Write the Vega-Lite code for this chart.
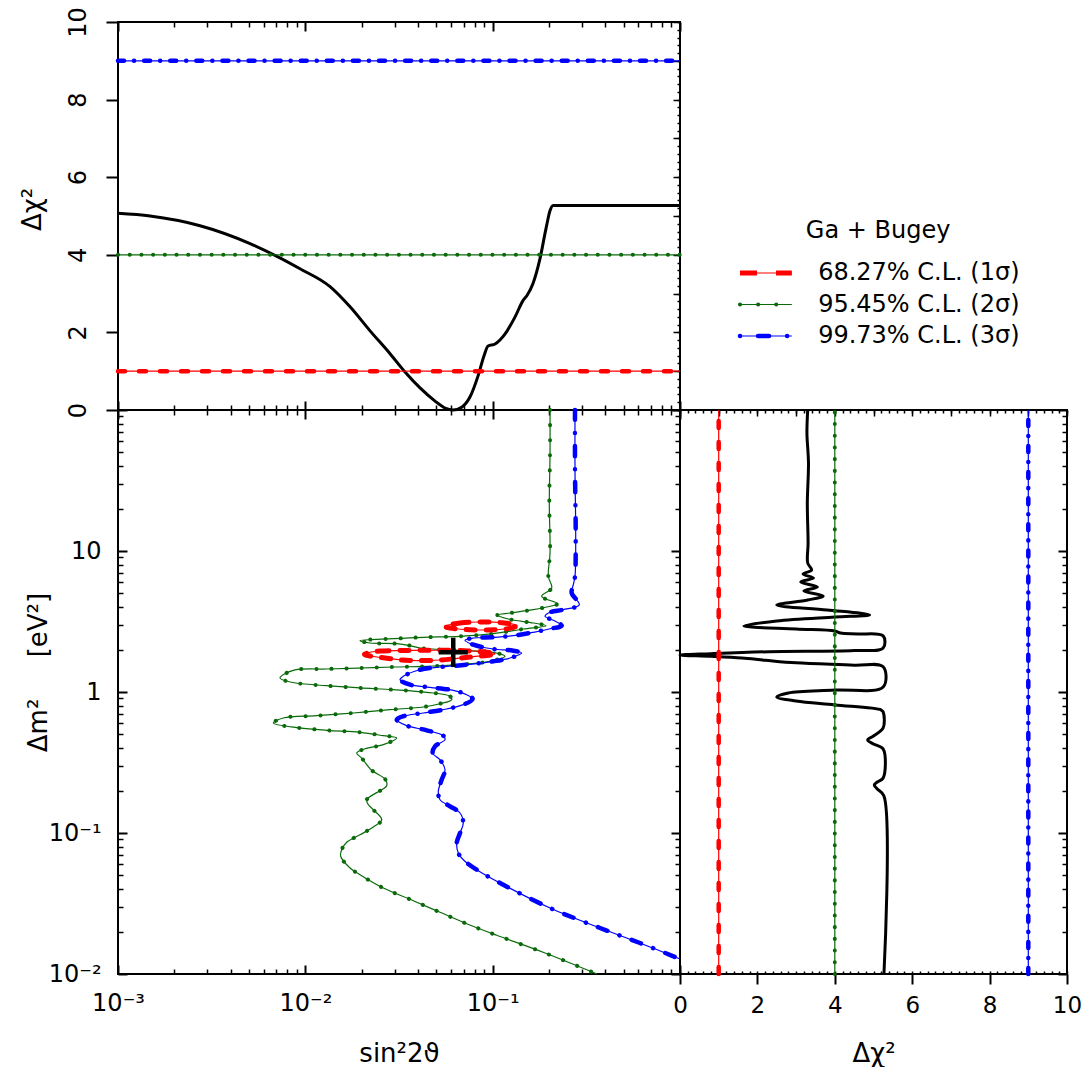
{
  "$schema": "https://vega.github.io/schema/vega-lite/v6.json",
  "background": "white",
  "padding": {"left": 18, "top": 5, "right": 0, "bottom": 0},
  "columns": 2,
  "spacing": 0,
  "bounds": "flush",
  "datasets": {
    "profile": [
      {"s2t": 0.001, "dchi2": 5.07}, {"s2t": 0.001483, "dchi2": 5.0}, {"s2t": 0.002741, "dchi2": 4.75},
      {"s2t": 0.005069, "dchi2": 4.29}, {"s2t": 0.009369, "dchi2": 3.64}, {"s2t": 0.01355, "dchi2": 3.18},
      {"s2t": 0.01733, "dchi2": 2.66}, {"s2t": 0.02216, "dchi2": 2.04}, {"s2t": 0.02833, "dchi2": 1.45},
      {"s2t": 0.03406, "dchi2": 0.98}, {"s2t": 0.04095, "dchi2": 0.57}, {"s2t": 0.04926, "dchi2": 0.23},
      {"s2t": 0.05569, "dchi2": 0.05}, {"s2t": 0.06147, "dchi2": 0.0}, {"s2t": 0.06866, "dchi2": 0.08},
      {"s2t": 0.07574, "dchi2": 0.34}, {"s2t": 0.08357, "dchi2": 0.88}, {"s2t": 0.08994, "dchi2": 1.40},
      {"s2t": 0.0945, "dchi2": 1.65}, {"s2t": 0.103, "dchi2": 1.70}, {"s2t": 0.1165, "dchi2": 1.96},
      {"s2t": 0.1317, "dchi2": 2.40}, {"s2t": 0.1452, "dchi2": 2.82}, {"s2t": 0.1525, "dchi2": 2.95},
      {"s2t": 0.1642, "dchi2": 3.26}, {"s2t": 0.1789, "dchi2": 3.90}, {"s2t": 0.1927, "dchi2": 4.68},
      {"s2t": 0.2025, "dchi2": 5.14}, {"s2t": 0.2101, "dchi2": 5.27}, {"s2t": 1.0, "dchi2": 5.27}
    ],
    "levels": [
      {"cl": "68.27% C.L. (1σ)", "chi": 1, "k": 1},
      {"cl": "95.45% C.L. (2σ)", "chi": 4, "k": 2},
      {"cl": "99.73% C.L. (3σ)", "chi": 9, "k": 3}
    ],
    "green": [
      {"i": 1, "s2t": 0.2024, "dm2": 100}, {"i": 2, "s2t": 0.2024, "dm2": 49.55}, {"i": 3, "s2t": 0.2006, "dm2": 21.9},
      {"i": 4, "s2t": 0.2024, "dm2": 9.68}, {"i": 5, "s2t": 0.1982, "dm2": 6.615}, {"i": 6, "s2t": 0.2066, "dm2": 5.466},
      {"i": 7, "s2t": 0.1827, "dm2": 4.772}, {"i": 8, "s2t": 0.2225, "dm2": 4.229}, {"i": 9, "s2t": 0.1943, "dm2": 4.007},
      {"i": 10, "s2t": 0.1520, "dm2": 3.772}, {"i": 11, "s2t": 0.1238, "dm2": 3.634}, {"i": 12, "s2t": 0.1059, "dm2": 3.517},
      {"i": 13, "s2t": 0.1212, "dm2": 3.294}, {"i": 14, "s2t": 0.1648, "dm2": 3.086}, {"i": 15, "s2t": 0.1927, "dm2": 2.953},
      {"i": 16, "s2t": 0.1458, "dm2": 2.797}, {"i": 17, "s2t": 0.1008, "dm2": 2.592}, {"i": 18, "s2t": 0.06694, "dm2": 2.483},
      {"i": 19, "s2t": 0.04263, "dm2": 2.443}, {"i": 20, "s2t": 0.02948, "dm2": 2.388}, {"i": 21, "s2t": 0.01958, "dm2": 2.311},
      {"i": 22, "s2t": 0.02214, "dm2": 2.226}, {"i": 23, "s2t": 0.03074, "dm2": 2.201}, {"i": 24, "s2t": 0.03620, "dm2": 2.130},
      {"i": 25, "s2t": 0.04093, "dm2": 2.051}, {"i": 26, "s2t": 0.06427, "dm2": 1.975}, {"i": 27, "s2t": 0.1008, "dm2": 1.912},
      {"i": 28, "s2t": 0.1164, "dm2": 1.792}, {"i": 29, "s2t": 0.09678, "dm2": 1.651}, {"i": 30, "s2t": 0.06694, "dm2": 1.562},
      {"i": 31, "s2t": 0.04445, "dm2": 1.521}, {"i": 32, "s2t": 0.02948, "dm2": 1.504}, {"i": 33, "s2t": 0.01958, "dm2": 1.480},
      {"i": 34, "s2t": 0.01300, "dm2": 1.456}, {"i": 35, "s2t": 0.008626, "dm2": 1.425}, {"i": 36, "s2t": 0.007323, "dm2": 1.257},
      {"i": 37, "s2t": 0.008457, "dm2": 1.172}, {"i": 38, "s2t": 0.01300, "dm2": 1.108}, {"i": 39, "s2t": 0.01958, "dm2": 1.068},
      {"i": 40, "s2t": 0.02948, "dm2": 1.038}, {"i": 41, "s2t": 0.04445, "dm2": 0.995}, {"i": 42, "s2t": 0.05920, "dm2": 0.932},
      {"i": 43, "s2t": 0.06044, "dm2": 0.882}, {"i": 44, "s2t": 0.05236, "dm2": 0.826}, {"i": 45, "s2t": 0.04263, "dm2": 0.783},
      {"i": 46, "s2t": 0.02831, "dm2": 0.749}, {"i": 47, "s2t": 0.01804, "dm2": 0.710}, {"i": 48, "s2t": 0.01150, "dm2": 0.679},
      {"i": 49, "s2t": 0.007628, "dm2": 0.654}, {"i": 50, "s2t": 0.006745, "dm2": 0.603}, {"i": 51, "s2t": 0.008457, "dm2": 0.565},
      {"i": 52, "s2t": 0.01300, "dm2": 0.535}, {"i": 53, "s2t": 0.01958, "dm2": 0.518}, {"i": 54, "s2t": 0.02608, "dm2": 0.490},
      {"i": 55, "s2t": 0.03074, "dm2": 0.472}, {"i": 56, "s2t": 0.02608, "dm2": 0.423}, {"i": 57, "s2t": 0.02082, "dm2": 0.396},
      {"i": 58, "s2t": 0.01880, "dm2": 0.369}, {"i": 59, "s2t": 0.01999, "dm2": 0.340}, {"i": 60, "s2t": 0.02261, "dm2": 0.2785},
      {"i": 61, "s2t": 0.02663, "dm2": 0.2415}, {"i": 62, "s2t": 0.02719, "dm2": 0.2165}, {"i": 63, "s2t": 0.02557, "dm2": 0.2028},
      {"i": 64, "s2t": 0.02127, "dm2": 0.1722}, {"i": 65, "s2t": 0.02169, "dm2": 0.1588}, {"i": 66, "s2t": 0.02306, "dm2": 0.1463},
      {"i": 67, "s2t": 0.02557, "dm2": 0.1243}, {"i": 68, "s2t": 0.02306, "dm2": 0.1103}, {"i": 69, "s2t": 0.01958, "dm2": 0.0972},
      {"i": 70, "s2t": 0.01663, "dm2": 0.0859}, {"i": 71, "s2t": 0.01563, "dm2": 0.0761}, {"i": 72, "s2t": 0.01544, "dm2": 0.0684},
      {"i": 73, "s2t": 0.01732, "dm2": 0.0565}, {"i": 74, "s2t": 0.01958, "dm2": 0.0506}, {"i": 75, "s2t": 0.02608, "dm2": 0.0407},
      {"i": 76, "s2t": 0.03771, "dm2": 0.0331}, {"i": 77, "s2t": 0.05236, "dm2": 0.02739}, {"i": 78, "s2t": 0.07266, "dm2": 0.02273},
      {"i": 79, "s2t": 0.1051, "dm2": 0.01882}, {"i": 80, "s2t": 0.1903, "dm2": 0.01409}, {"i": 81, "s2t": 0.3606, "dm2": 0.01}
    ],
    "blue": [
      {"i": 1, "s2t": 0.2751, "dm2": 100}, {"i": 2, "s2t": 0.2751, "dm2": 37.73}, {"i": 3, "s2t": 0.2775, "dm2": 12.72},
      {"i": 4, "s2t": 0.2751, "dm2": 6.615}, {"i": 5, "s2t": 0.2694, "dm2": 5.768}, {"i": 6, "s2t": 0.2641, "dm2": 5.036},
      {"i": 7, "s2t": 0.2901, "dm2": 4.159}, {"i": 8, "s2t": 0.2383, "dm2": 3.835}, {"i": 9, "s2t": 0.2024, "dm2": 3.675},
      {"i": 10, "s2t": 0.1903, "dm2": 3.443}, {"i": 11, "s2t": 0.2108, "dm2": 3.225}, {"i": 12, "s2t": 0.2337, "dm2": 2.953},
      {"i": 13, "s2t": 0.2024, "dm2": 2.811}, {"i": 14, "s2t": 0.1648, "dm2": 2.651}, {"i": 15, "s2t": 0.1289, "dm2": 2.507},
      {"i": 16, "s2t": 0.1008, "dm2": 2.443}, {"i": 17, "s2t": 0.07880, "dm2": 2.415}, {"i": 18, "s2t": 0.07116, "dm2": 2.326},
      {"i": 19, "s2t": 0.07880, "dm2": 2.165}, {"i": 20, "s2t": 0.1008, "dm2": 2.018}, {"i": 21, "s2t": 0.1289, "dm2": 1.963},
      {"i": 22, "s2t": 0.1429, "dm2": 1.890}, {"i": 23, "s2t": 0.1238, "dm2": 1.742}, {"i": 24, "s2t": 0.1008, "dm2": 1.651},
      {"i": 25, "s2t": 0.07266, "dm2": 1.562}, {"i": 26, "s2t": 0.05236, "dm2": 1.504}, {"i": 27, "s2t": 0.04093, "dm2": 1.439},
      {"i": 28, "s2t": 0.03334, "dm2": 1.292}, {"i": 29, "s2t": 0.03201, "dm2": 1.222}, {"i": 30, "s2t": 0.03620, "dm2": 1.127},
      {"i": 31, "s2t": 0.04629, "dm2": 1.080}, {"i": 32, "s2t": 0.06165, "dm2": 1.028}, {"i": 33, "s2t": 0.07266, "dm2": 0.957},
      {"i": 34, "s2t": 0.07822, "dm2": 0.892}, {"i": 35, "s2t": 0.06970, "dm2": 0.813}, {"i": 36, "s2t": 0.05684, "dm2": 0.758},
      {"i": 37, "s2t": 0.04263, "dm2": 0.710}, {"i": 38, "s2t": 0.03334, "dm2": 0.673}, {"i": 39, "s2t": 0.03074, "dm2": 0.636},
      {"i": 40, "s2t": 0.03476, "dm2": 0.577}, {"i": 41, "s2t": 0.04445, "dm2": 0.535}, {"i": 42, "s2t": 0.05451, "dm2": 0.490},
      {"i": 43, "s2t": 0.05566, "dm2": 0.459}, {"i": 44, "s2t": 0.04923, "dm2": 0.412}, {"i": 45, "s2t": 0.04785, "dm2": 0.369},
      {"i": 46, "s2t": 0.05236, "dm2": 0.331}, {"i": 47, "s2t": 0.05566, "dm2": 0.2812}, {"i": 48, "s2t": 0.05346, "dm2": 0.2388},
      {"i": 49, "s2t": 0.05126, "dm2": 0.1975}, {"i": 50, "s2t": 0.05236, "dm2": 0.1722}, {"i": 51, "s2t": 0.05920, "dm2": 0.1547},
      {"i": 52, "s2t": 0.06694, "dm2": 0.1386}, {"i": 53, "s2t": 0.06970, "dm2": 0.1177}, {"i": 54, "s2t": 0.06694, "dm2": 0.1},
      {"i": 55, "s2t": 0.06427, "dm2": 0.0849}, {"i": 56, "s2t": 0.06556, "dm2": 0.0721}, {"i": 57, "s2t": 0.06970, "dm2": 0.0646},
      {"i": 58, "s2t": 0.08218, "dm2": 0.0549}, {"i": 59, "s2t": 0.1094, "dm2": 0.0442}, {"i": 60, "s2t": 0.2024, "dm2": 0.02938},
      {"i": 61, "s2t": 0.3741, "dm2": 0.02120}, {"i": 62, "s2t": 0.6116, "dm2": 0.01659}, {"i": 63, "s2t": 1.0, "dm2": 0.01278}
    ],
    "red": [
      {"loop": "a", "i": 1, "s2t": 0.05566, "dm2": 2.938}, {"loop": "a", "i": 2, "s2t": 0.06694, "dm2": 3.086},
      {"loop": "a", "i": 3, "s2t": 0.08559, "dm2": 3.137}, {"loop": "a", "i": 4, "s2t": 0.1094, "dm2": 3.111},
      {"loop": "a", "i": 5, "s2t": 0.1349, "dm2": 2.961}, {"loop": "a", "i": 6, "s2t": 0.1164, "dm2": 2.797},
      {"loop": "a", "i": 7, "s2t": 0.09101, "dm2": 2.753}, {"loop": "a", "i": 8, "s2t": 0.07116, "dm2": 2.776},
      {"loop": "a", "i": 9, "s2t": 0.05920, "dm2": 2.844},
      {"loop": "b", "i": 1, "s2t": 0.02082, "dm2": 1.860}, {"loop": "b", "i": 2, "s2t": 0.02504, "dm2": 1.953},
      {"loop": "b", "i": 3, "s2t": 0.04093, "dm2": 1.975}, {"loop": "b", "i": 4, "s2t": 0.06694, "dm2": 1.969},
      {"loop": "b", "i": 5, "s2t": 0.09678, "dm2": 1.906}, {"loop": "b", "i": 6, "s2t": 0.1004, "dm2": 1.845},
      {"loop": "b", "i": 7, "s2t": 0.07568, "dm2": 1.771}, {"loop": "b", "i": 8, "s2t": 0.05236, "dm2": 1.687},
      {"loop": "b", "i": 9, "s2t": 0.03620, "dm2": 1.673}, {"loop": "b", "i": 10, "s2t": 0.02663, "dm2": 1.742},
      {"loop": "b", "i": 11, "s2t": 0.02214, "dm2": 1.800}
    ],
    "bestfit": [{"s2t": 0.0616, "dm2": 1.91}],
    "chi": [
      {"dm2": 100, "chi": 3.30}, {"dm2": 68.7, "chi": 3.28}, {"dm2": 42.1, "chi": 3.32}, {"dm2": 21.9, "chi": 3.29},
      {"dm2": 11.4, "chi": 3.31}, {"dm2": 8.22, "chi": 3.30}, {"dm2": 7.33, "chi": 3.40}, {"dm2": 6.87, "chi": 3.18},
      {"dm2": 6.43, "chi": 3.45}, {"dm2": 6.03, "chi": 3.12}, {"dm2": 5.56, "chi": 3.55}, {"dm2": 5.20, "chi": 3.20},
      {"dm2": 4.80, "chi": 3.70}, {"dm2": 4.49, "chi": 3.30}, {"dm2": 4.14, "chi": 2.50}, {"dm2": 3.82, "chi": 3.80},
      {"dm2": 3.52, "chi": 4.90}, {"dm2": 3.40, "chi": 4.00}, {"dm2": 3.19, "chi": 2.50}, {"dm2": 2.94, "chi": 1.65},
      {"dm2": 2.80, "chi": 3.00}, {"dm2": 2.71, "chi": 4.00}, {"dm2": 2.62, "chi": 4.15}, {"dm2": 2.58, "chi": 4.60},
      {"dm2": 2.50, "chi": 5.25}, {"dm2": 2.05, "chi": 5.25}, {"dm2": 1.97, "chi": 4.50}, {"dm2": 1.93, "chi": 2.30},
      {"dm2": 1.87, "chi": 0.80}, {"dm2": 1.83, "chi": 0.00}, {"dm2": 1.79, "chi": 0.80}, {"dm2": 1.74, "chi": 1.60},
      {"dm2": 1.68, "chi": 2.20}, {"dm2": 1.61, "chi": 3.00}, {"dm2": 1.55, "chi": 4.50}, {"dm2": 1.51, "chi": 5.25},
      {"dm2": 1.085, "chi": 5.25}, {"dm2": 1.033, "chi": 4.00}, {"dm2": 0.984, "chi": 2.80}, {"dm2": 0.922, "chi": 2.50},
      {"dm2": 0.863, "chi": 3.00}, {"dm2": 0.809, "chi": 4.00}, {"dm2": 0.745, "chi": 5.20}, {"dm2": 0.722, "chi": 5.25},
      {"dm2": 0.556, "chi": 5.25}, {"dm2": 0.487, "chi": 5.00}, {"dm2": 0.457, "chi": 4.85}, {"dm2": 0.428, "chi": 5.00},
      {"dm2": 0.394, "chi": 5.25}, {"dm2": 0.2455, "chi": 5.25}, {"dm2": 0.230, "chi": 5.10}, {"dm2": 0.219, "chi": 5.02},
      {"dm2": 0.205, "chi": 5.10}, {"dm2": 0.183, "chi": 5.27}, {"dm2": 0.01, "chi": 5.27}
    ]
  },
  "concat": [
    {
      "width": 562,
      "height": 388,
      "resolve": {"axis": {"x": "independent", "y": "independent"}},
      "layer": [
        {
          "data": {"name": "profile"},
          "mark": {"type": "line", "color": "black", "strokeWidth": 3, "interpolate": "monotone"},
          "encoding": {
            "x": {"field": "s2t", "type": "quantitative", "scale": {"type": "log", "domain": [0.001, 1], "nice": false},
              "axis": {"orient": "bottom", "values": [0.001, 0.01, 0.1, 1], "labels": false, "title": null, "tickSize": -9, "tickWidth": 2}},
            "y": {"field": "dchi2", "type": "quantitative", "scale": {"domain": [0, 10], "nice": false},
              "axis": {"orient": "left", "values": [0, 2, 4, 6, 8, 10], "tickSize": 12, "tickWidth": 2, "labelAngle": -90, "labelAlign": "center", "labelBaseline": "middle", "labelPadding": 28, "title": "Δχ²", "titleX": -86, "titleY": 187, "titleBaseline": "middle", "titleAngle": -90}}
          }
        },
        {
          "data": {"name": "levels"},
          "mark": {"type": "rule", "strokeWidth": 1.2},
          "encoding": {
            "x": {"datum": 0.001, "type": "quantitative",
              "axis": {"orient": "bottom", "values": [0.002,0.003,0.004,0.005,0.006,0.007,0.008,0.009,0.02,0.03,0.04,0.05,0.06,0.07,0.08,0.09,0.2,0.3,0.4,0.5,0.6,0.7,0.8,0.9], "labels": false, "title": null, "tickSize": -5}},
            "x2": {"datum": 1},
            "y": {"field": "chi", "type": "quantitative",
              "axis": {"orient": "right", "values": [0,0.2,0.4,0.6,0.8,1,1.2,1.4,1.6,1.8,2,2.2,2.4,2.6,2.8,3,3.2,3.4,3.6,3.8,4,4.2,4.4,4.6,4.8,5,5.2,5.4,5.6,5.8,6,6.2,6.4,6.6,6.8,7,7.2,7.4,7.6,7.8,8,8.2,8.4,8.6,8.8,9,9.2,9.4,9.6,9.8,10], "labels": false, "title": null, "tickSize": -3}},
            "color": {"field": "cl", "type": "nominal", "scale": {"domain": ["68.27% C.L. (1σ)", "95.45% C.L. (2σ)", "99.73% C.L. (3σ)"], "range": ["#ff0000", "#0a6a0a", "#0000ff"]}, "legend": null}
          }
        },
        {
          "data": {"name": "levels"},
          "transform": [{"filter": "datum.chi == 1"}],
          "mark": {"type": "rule", "color": "#ff0000", "strokeWidth": 4.5, "strokeDash": [7, 14], "strokeCap": "round"},
          "encoding": {
            "x": {"datum": 0.001, "type": "quantitative",
              "axis": {"orient": "top", "values": [0.001, 0.01, 0.1, 1], "labels": false, "title": null, "tickSize": -9, "tickWidth": 2}},
            "x2": {"datum": 1},
            "y": {"field": "chi", "type": "quantitative",
              "axis": {"orient": "right", "values": [0,1,2,3,4,5,6,7,8,9,10], "labels": false, "title": null, "tickSize": -7}}
          }
        },
        {
          "data": {"name": "levels"},
          "transform": [{"filter": "datum.chi == 4"}],
          "mark": {"type": "rule", "color": "#0a6a0a", "strokeWidth": 4, "strokeDash": [0.1, 11.6], "strokeCap": "round"},
          "encoding": {
            "x": {"datum": 0.001, "type": "quantitative",
              "axis": {"orient": "top", "values": [0.002,0.003,0.004,0.005,0.006,0.007,0.008,0.009,0.02,0.03,0.04,0.05,0.06,0.07,0.08,0.09,0.2,0.3,0.4,0.5,0.6,0.7,0.8,0.9], "labels": false, "title": null, "tickSize": -5}},
            "x2": {"datum": 1},
            "y": {"field": "chi", "type": "quantitative", "axis": null}
          }
        },
        {
          "data": {"name": "levels"},
          "transform": [{"filter": "datum.chi == 9"}],
          "mark": {"type": "rule", "color": "#0000ff", "strokeWidth": 4.5, "strokeDash": [6, 10, 0.1, 10], "strokeCap": "round"},
          "encoding": {
            "x": {"datum": 0.001, "type": "quantitative", "axis": null},
            "x2": {"datum": 1},
            "y": {"field": "chi", "type": "quantitative", "axis": null}
          }
        }
      ]
    },
    {
      "width": 387,
      "height": 388,
      "view": {"stroke": null},
      "layer": [
        {
          "data": {"values": [{"title": "Ga + Bugey"}]},
          "mark": {"type": "text", "fontSize": 24, "align": "center", "baseline": "middle", "font": "DejaVu Sans", "color": "black"},
          "encoding": {
            "x": {"datum": 0.512, "type": "quantitative", "scale": {"domain": [0, 1], "nice": false, "zero": false}, "axis": null},
            "y": {"datum": -0.32, "type": "quantitative", "scale": {"domain": [-6.968, 5.349], "reverse": true, "nice": false, "zero": false}, "axis": null},
            "text": {"field": "title"}
          }
        },
        {
          "data": {"name": "levels"},
          "mark": {"type": "rule", "strokeWidth": 1.2},
          "encoding": {
            "x": {"datum": 0.155, "type": "quantitative"},
            "x2": {"datum": 0.289},
            "y": {"field": "k", "type": "quantitative"},
            "color": {"field": "cl", "type": "nominal", "legend": null}
          }
        },
        {
          "data": {"name": "levels"},
          "transform": [{"filter": "datum.chi == 1"}],
          "mark": {"type": "rule", "color": "#ff0000", "strokeWidth": 5, "strokeDash": [17, 19]},
          "encoding": {"x": {"datum": 0.155, "type": "quantitative"}, "x2": {"datum": 0.289}, "y": {"field": "k", "type": "quantitative"}}
        },
        {
          "data": {"name": "levels"},
          "transform": [{"filter": "datum.chi == 4"}],
          "mark": {"type": "rule", "color": "#0a6a0a", "strokeWidth": 4, "strokeDash": [0.1, 18], "strokeCap": "round"},
          "encoding": {"x": {"datum": 0.155, "type": "quantitative"}, "x2": {"datum": 0.289}, "y": {"field": "k", "type": "quantitative"}}
        },
        {
          "data": {"name": "levels"},
          "transform": [{"filter": "datum.chi == 9"}],
          "mark": {"type": "rule", "color": "#0000ff", "strokeWidth": 4.5, "strokeDash": [0.1, 18, 11, 18], "strokeCap": "round"},
          "encoding": {"x": {"datum": 0.155, "type": "quantitative"}, "x2": {"datum": 0.289}, "y": {"field": "k", "type": "quantitative"}}
        },
        {
          "data": {"name": "levels"},
          "mark": {"type": "text", "fontSize": 24, "align": "left", "baseline": "middle", "font": "DejaVu Sans", "color": "black"},
          "encoding": {
            "x": {"datum": 0.357, "type": "quantitative"},
            "y": {"field": "k", "type": "quantitative"},
            "text": {"field": "cl"}
          }
        }
      ]
    },
    {
      "width": 562,
      "height": 564,
      "resolve": {"axis": {"x": "independent", "y": "independent"}},
      "layer": [
        {
          "data": {"name": "green"},
          "mark": {"type": "line", "color": "#0a6a0a", "strokeWidth": 1.2, "interpolate": "catmull-rom"},
          "encoding": {
            "x": {"field": "s2t", "type": "quantitative", "scale": {"type": "log", "domain": [0.001, 1], "nice": false},
              "axis": {"orient": "bottom", "values": [0.001, 0.01, 0.1], "ticks": false, "labelPadding": 17, "labelExpr": "datum.value < 0.005 ? '10⁻³' : datum.value < 0.05 ? '10⁻²' : '10⁻¹'", "title": "sin²2ϑ", "titleY": 87, "titleBaseline": "alphabetic"}},
            "y": {"field": "dm2", "type": "quantitative", "scale": {"type": "log", "domain": [0.01, 100], "nice": false},
              "axis": {"orient": "left", "values": [0.01, 0.1, 1, 10], "ticks": false, "labelPadding": 17, "labelExpr": "datum.value < 0.05 ? '10⁻²' : datum.value < 0.5 ? '10⁻¹' : datum.value < 5 ? '1' : '10'", "title": "Δm²\u00a0\u00a0\u00a0\u00a0\u00a0[eV²]", "titleX": -80, "titleY": 262, "titleBaseline": "middle", "titleAngle": -90}},
            "order": {"field": "i", "type": "quantitative"}
          }
        },
        {
          "data": {"name": "green"},
          "mark": {"type": "line", "color": "#0a6a0a", "strokeWidth": 4, "strokeDash": [0.1, 15], "strokeCap": "round", "interpolate": "catmull-rom"},
          "encoding": {
            "x": {"field": "s2t", "type": "quantitative",
              "axis": {"orient": "bottom", "values": [0.001, 0.01, 0.1, 1], "labels": false, "title": null, "tickSize": -9, "tickWidth": 2}},
            "y": {"field": "dm2", "type": "quantitative",
              "axis": {"orient": "left", "values": [0.01, 0.1, 1, 10, 100], "labels": false, "title": null, "tickSize": -9, "tickWidth": 2}},
            "order": {"field": "i", "type": "quantitative"}
          }
        },
        {
          "data": {"name": "blue"},
          "mark": {"type": "line", "color": "#0000ff", "strokeWidth": 1.2, "interpolate": "catmull-rom"},
          "encoding": {
            "x": {"field": "s2t", "type": "quantitative",
              "axis": {"orient": "bottom", "values": [0.002,0.003,0.004,0.005,0.006,0.007,0.008,0.009,0.02,0.03,0.04,0.05,0.06,0.07,0.08,0.09,0.2,0.3,0.4,0.5,0.6,0.7,0.8,0.9], "labels": false, "title": null, "tickSize": -5}},
            "y": {"field": "dm2", "type": "quantitative",
              "axis": {"orient": "left", "values": [0.02,0.03,0.04,0.05,0.06,0.07,0.08,0.09,0.2,0.3,0.4,0.5,0.6,0.7,0.8,0.9,2,3,4,5,6,7,8,9,20,30,40,50,60,70,80,90], "labels": false, "title": null, "tickSize": -5}},
            "order": {"field": "i", "type": "quantitative"}
          }
        },
        {
          "data": {"name": "blue"},
          "mark": {"type": "line", "color": "#0000ff", "strokeWidth": 4.5, "strokeDash": [10, 13, 0.1, 13], "strokeCap": "round", "interpolate": "catmull-rom"},
          "encoding": {
            "x": {"field": "s2t", "type": "quantitative",
              "axis": {"orient": "top", "values": [0.001, 0.01, 0.1, 1], "labels": false, "title": null, "tickSize": -9, "tickWidth": 2}},
            "y": {"field": "dm2", "type": "quantitative",
              "axis": {"orient": "right", "values": [0.01, 0.1, 1, 10, 100], "labels": false, "title": null, "tickSize": -9, "tickWidth": 2}},
            "order": {"field": "i", "type": "quantitative"}
          }
        },
        {
          "data": {"name": "red"},
          "mark": {"type": "line", "color": "#ff0000", "strokeWidth": 1.2, "interpolate": "cardinal-closed"},
          "encoding": {
            "x": {"field": "s2t", "type": "quantitative",
              "axis": {"orient": "top", "values": [0.002,0.003,0.004,0.005,0.006,0.007,0.008,0.009,0.02,0.03,0.04,0.05,0.06,0.07,0.08,0.09,0.2,0.3,0.4,0.5,0.6,0.7,0.8,0.9], "labels": false, "title": null, "tickSize": -5}},
            "y": {"field": "dm2", "type": "quantitative",
              "axis": {"orient": "right", "values": [0.02,0.03,0.04,0.05,0.06,0.07,0.08,0.09,0.2,0.3,0.4,0.5,0.6,0.7,0.8,0.9,2,3,4,5,6,7,8,9,20,30,40,50,60,70,80,90], "labels": false, "title": null, "tickSize": -5}},
            "detail": {"field": "loop"},
            "order": {"field": "i", "type": "quantitative"}
          }
        },
        {
          "data": {"name": "red"},
          "mark": {"type": "line", "color": "#ff0000", "strokeWidth": 5, "strokeDash": [9, 11], "strokeCap": "round", "interpolate": "cardinal-closed"},
          "encoding": {
            "x": {"field": "s2t", "type": "quantitative", "axis": null},
            "y": {"field": "dm2", "type": "quantitative", "axis": null},
            "detail": {"field": "loop"},
            "order": {"field": "i", "type": "quantitative"}
          }
        },
        {
          "data": {"name": "bestfit"},
          "mark": {"type": "point", "shape": "M-1,0H1M0,-1V1", "size": 850, "filled": false, "stroke": "black", "strokeWidth": 4.5, "opacity": 1},
          "encoding": {
            "x": {"field": "s2t", "type": "quantitative", "axis": null},
            "y": {"field": "dm2", "type": "quantitative", "axis": null}
          }
        }
      ]
    },
    {
      "width": 387,
      "height": 564,
      "resolve": {"axis": {"x": "independent", "y": "independent"}},
      "layer": [
        {
          "data": {"name": "chi"},
          "mark": {"type": "line", "color": "black", "strokeWidth": 3, "interpolate": "catmull-rom"},
          "encoding": {
            "x": {"field": "chi", "type": "quantitative", "scale": {"domain": [0, 10], "nice": false},
              "axis": {"orient": "bottom", "values": [0, 2, 4, 6, 8, 10], "tickSize": 10, "tickWidth": 2, "labelPadding": 10, "labelFontSize": 23, "title": "Δχ²", "titleY": 87, "titleBaseline": "alphabetic"}},
            "y": {"field": "dm2", "type": "quantitative", "scale": {"type": "log", "domain": [0.01, 100], "nice": false},
              "axis": {"orient": "right", "values": [0.01, 0.1, 1, 10, 100], "labels": false, "title": null, "tickSize": -9, "tickWidth": 2}},
            "order": {"field": "dm2", "type": "quantitative"}
          }
        },
        {
          "data": {"name": "levels"},
          "mark": {"type": "rule", "strokeWidth": 1.2},
          "encoding": {
            "x": {"field": "chi", "type": "quantitative",
              "axis": {"orient": "bottom", "values": [0,0.2,0.4,0.6,0.8,1,1.2,1.4,1.6,1.8,2,2.2,2.4,2.6,2.8,3,3.2,3.4,3.6,3.8,4,4.2,4.4,4.6,4.8,5,5.2,5.4,5.6,5.8,6,6.2,6.4,6.6,6.8,7,7.2,7.4,7.6,7.8,8,8.2,8.4,8.6,8.8,9,9.2,9.4,9.6,9.8,10], "labels": false, "title": null, "tickSize": -3}},
            "y": {"datum": 0.01, "type": "quantitative",
              "axis": {"orient": "right", "values": [0.02,0.03,0.04,0.05,0.06,0.07,0.08,0.09,0.2,0.3,0.4,0.5,0.6,0.7,0.8,0.9,2,3,4,5,6,7,8,9,20,30,40,50,60,70,80,90], "labels": false, "title": null, "tickSize": -5}},
            "y2": {"datum": 100},
            "color": {"field": "cl", "type": "nominal", "legend": null}
          }
        },
        {
          "data": {"name": "levels"},
          "transform": [{"filter": "datum.chi == 1"}],
          "mark": {"type": "rule", "color": "#ff0000", "strokeWidth": 4.5, "strokeDash": [7, 14], "strokeCap": "round"},
          "encoding": {
            "x": {"field": "chi", "type": "quantitative",
              "axis": {"orient": "top", "values": [0,0.2,0.4,0.6,0.8,1,1.2,1.4,1.6,1.8,2,2.2,2.4,2.6,2.8,3,3.2,3.4,3.6,3.8,4,4.2,4.4,4.6,4.8,5,5.2,5.4,5.6,5.8,6,6.2,6.4,6.6,6.8,7,7.2,7.4,7.6,7.8,8,8.2,8.4,8.6,8.8,9,9.2,9.4,9.6,9.8,10], "labels": false, "title": null, "tickSize": -3}},
            "y": {"datum": 0.01, "type": "quantitative", "axis": null},
            "y2": {"datum": 100}
          }
        },
        {
          "data": {"name": "levels"},
          "transform": [{"filter": "datum.chi == 4"}],
          "mark": {"type": "rule", "color": "#0a6a0a", "strokeWidth": 4, "strokeDash": [0.1, 11.6], "strokeCap": "round"},
          "encoding": {
            "x": {"field": "chi", "type": "quantitative",
              "axis": {"orient": "top", "values": [0,1,2,3,4,5,6,7,8,9,10], "labels": false, "title": null, "tickSize": -6}},
            "y": {"datum": 0.01, "type": "quantitative", "axis": null},
            "y2": {"datum": 100}
          }
        },
        {
          "data": {"name": "levels"},
          "transform": [{"filter": "datum.chi == 9"}],
          "mark": {"type": "rule", "color": "#0000ff", "strokeWidth": 4.5, "strokeDash": [6, 10, 0.1, 10], "strokeCap": "round"},
          "encoding": {
            "x": {"field": "chi", "type": "quantitative", "axis": null},
            "y": {"datum": 0.01, "type": "quantitative", "axis": null},
            "y2": {"datum": 100}
          }
        }
      ]
    }
  ],
  "config": {
    "view": {"stroke": "black", "strokeWidth": 2},
    "font": "DejaVu Sans",
    "axis": {
      "domain": false, "grid": false,
      "labelFont": "DejaVu Sans", "labelFontSize": 24, "labelColor": "black",
      "labelFlush": false, "labelOverlap": false, "labelBound": false,
      "titleFont": "DejaVu Sans", "titleFontSize": 26, "titleFontWeight": "normal", "titleColor": "black",
      "tickColor": "black", "tickWidth": 1.5
    },
    "text": {"font": "DejaVu Sans", "color": "black"}
  }
}
